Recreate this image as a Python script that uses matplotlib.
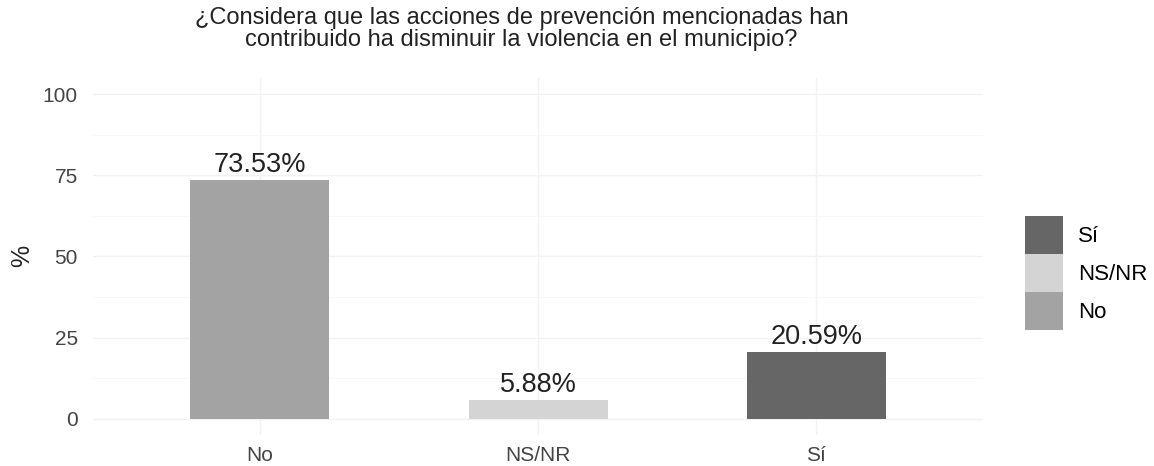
import matplotlib
matplotlib.use('Agg')
import matplotlib.pyplot as plt
from matplotlib.patches import Patch

plt.rcParams['font.family'] = ['Liberation Sans', 'DejaVu Sans']

categorias = ['No', 'NS/NR', 'Sí']
porcentajes = [73.53, 5.88, 20.59]
colores = {'No': '#a3a3a3', 'NS/NR': '#d4d4d4', 'Sí': '#666666'}
orden_leyenda = ['Sí', 'NS/NR', 'No']
titulo = '¿Considera que las acciones de prevención mencionadas han\ncontribuido ha disminuir la violencia en el municipio?'

fig = plt.figure(figsize=(11.54, 4.66), dpi=100)
ax = fig.add_axes([0.0806, 0.0665, 0.7714, 0.7665])

x = list(range(1, len(categorias) + 1))
ax.bar(x, porcentajes, width=0.5, color=[colores[c] for c in categorias], zorder=2)
for xi, v in zip(x, porcentajes):
    ax.text(xi, v + 0.6, '%.2f%%' % v, ha='center', va='bottom', fontsize=19.5, color='#222222')

ax.set_xlim(0.4, 3.6)
ax.set_ylim(-5, 105)
ax.set_xticks(x)
ax.set_xticklabels(categorias)
ax.set_yticks([0, 25, 50, 75, 100])
ax.set_yticks([12.5, 37.5, 62.5, 87.5], minor=True)
ax.tick_params(axis='both', length=0, labelsize=15, colors='#444444')
ax.tick_params(axis='y', pad=11)
ax.tick_params(axis='x', pad=8)
ax.tick_params(which='minor', length=0)
ax.grid(True, which='major', color='#f2f2f2', linewidth=1.0, zorder=0)
ax.grid(True, which='minor', axis='y', color='#f7f7f7', linewidth=0.6, zorder=0)
for s in ax.spines.values():
    s.set_visible(False)
ax.set_ylabel('%', fontsize=18, color='#222222', labelpad=6)

fig.suptitle(titulo, x=0.452, y=0.985, fontsize=17, linespacing=1.0, color='#222222')

handles = [Patch(facecolor=colores[c], edgecolor='none') for c in orden_leyenda]
fig.legend(handles, orden_leyenda, loc='center left', bbox_to_anchor=(0.888, 0.414),
           frameon=False, fontsize=16, handlelength=1.7, handleheight=2.25,
           handletextpad=0.7, labelspacing=0.0, borderpad=0, borderaxespad=0)

fig.savefig('out.png', dpi=100, facecolor='white')
